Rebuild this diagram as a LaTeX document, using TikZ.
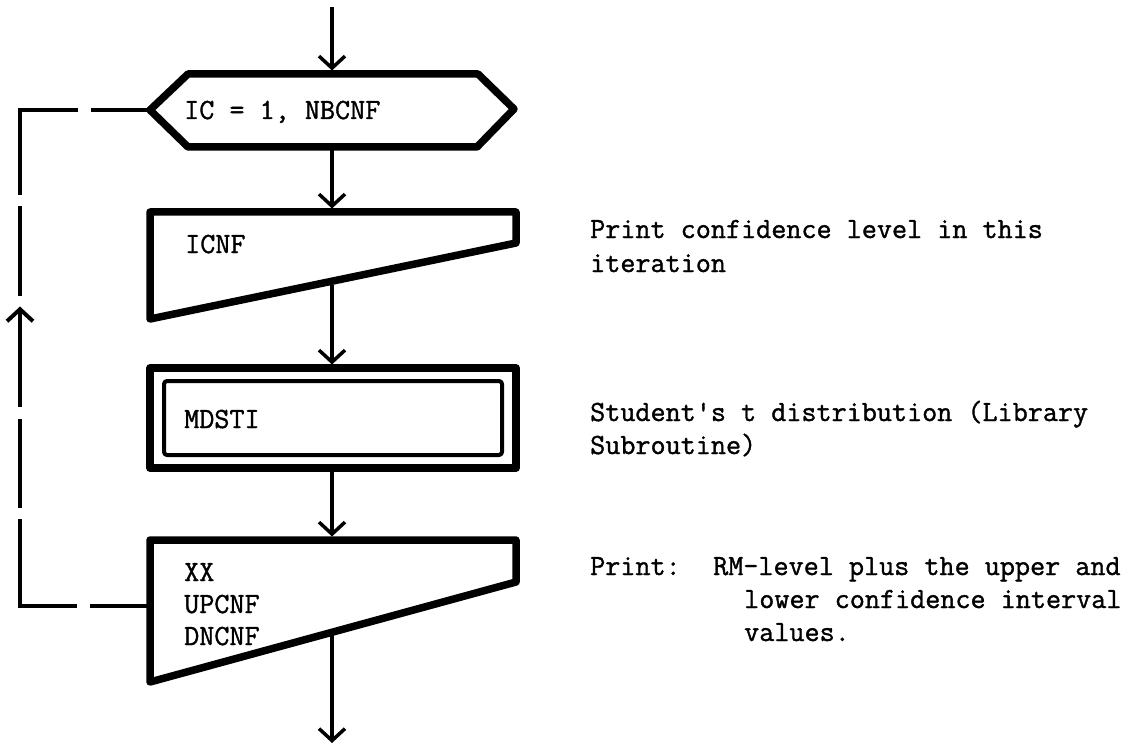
\documentclass[tikz,border=0pt]{standalone}
\usepackage{fontspec}
\newfontfamily\typer[FakeBold=1.2]{Latin Modern Mono}
\usetikzlibrary{arrows.meta,decorations.markings}
\begin{document}
\begin{tikzpicture}[x=1pt,y=-1pt,
  box/.style={line width=7.5pt, line join=round},
  inbox/.style={line width=4pt, line join=round, rounded corners=3pt},
  barb/.tip={Straight Barb[length=12pt,width=26pt]},
  flow/.style={line width=3.5pt, -barb},
  txt/.style={font=\typer\fontsize{29.3}{33}\selectfont, inner sep=0pt, anchor=base west},
  loopline/.style={line width=4pt,
    dash pattern=on 57pt off 13pt on 144pt off 11pt on 89pt off 12pt on 99pt off 12pt on 89pt off 11pt on 143pt off 13pt on 80pt,
    postaction={decorate},
    decoration={markings, mark=at position 426pt with {\arrow{barb}}}}
]
\useasboundingbox[fill=white] (0,0) rectangle (1143,746);

% loop hexagon
\coordinate (hL) at (150,110);
\coordinate (hTL) at (188,74);
\coordinate (hTR) at (478,74);
\coordinate (hR) at (514,109);
\coordinate (hBR) at (477,147);
\coordinate (hBL) at (188,147);
\draw[box] (hL) -- (hTL) -- (hTR) -- (hR) -- (hBR) -- (hBL) -- cycle;
\node[txt] (loop) at (184,119) {IC = 1, NBCNF};

% first output symbol
\draw[box] (150,212) -- (516,212) -- (516,243) -- (150,319) -- cycle;
\node[txt] (icnf) at (185,253) {ICNF};

% library subroutine
\draw[box] (150,368) rectangle (516,468);
\draw[inbox] (164,381) rectangle (502,455);
\node[txt] (mdsti) at (184,428) {MDSTI};

% second output symbol
\draw[box] (150,540) -- (516,540) -- (516,582) -- (150,682) -- cycle;
\node[txt] (xx) at (184,581) {XX};
\node[txt] (up) at (184,613) {UPCNF};
\node[txt] (dn) at (184,645) {DNCNF};

% connector end points on the symbol outlines
\coordinate (in) at (332,7);
\coordinate (hT) at (332,70.5);
\coordinate (hB) at (332,150.5);
\coordinate (iT) at (332,208.5);
\coordinate (iS) at (332,284.5);
\coordinate (mT) at (332,364.5);
\coordinate (mB) at (332,471.5);
\coordinate (oT) at (332,536.5);
\coordinate (oS) at (332,635);
\coordinate (out) at (332,743);
\coordinate (oW) at (146.5,606);
\coordinate (lc) at (20,110);

\draw[flow] (in) -- (hT);
\draw[flow] (hB) -- (iT);
\draw[flow] (iS) -- (mT);
\draw[flow] (mB) -- (oT);
\draw[flow] (oS) -- (out);

% return path of the loop
\draw[loopline] (oW) -| (lc) -- (hL);

% comments
\node[txt] (c1a) at (590,238) {Print confidence level in this};
\node[txt] (c1b) at (590,272) {iteration};
\node[txt] (c2a) at (590,421) {Student's t distribution (Library};
\node[txt] (c2b) at (590,454) {Subroutine)};
\node[txt] (c3) at (590,575) {Print:};
\node[txt] (c3a) at (713,575) {RM-level plus the upper and};
\node[txt] (c3b) at (744,608) {lower confidence interval};
\node[txt] (c3c) at (744,641) {values.};
\end{tikzpicture}
\end{document}
